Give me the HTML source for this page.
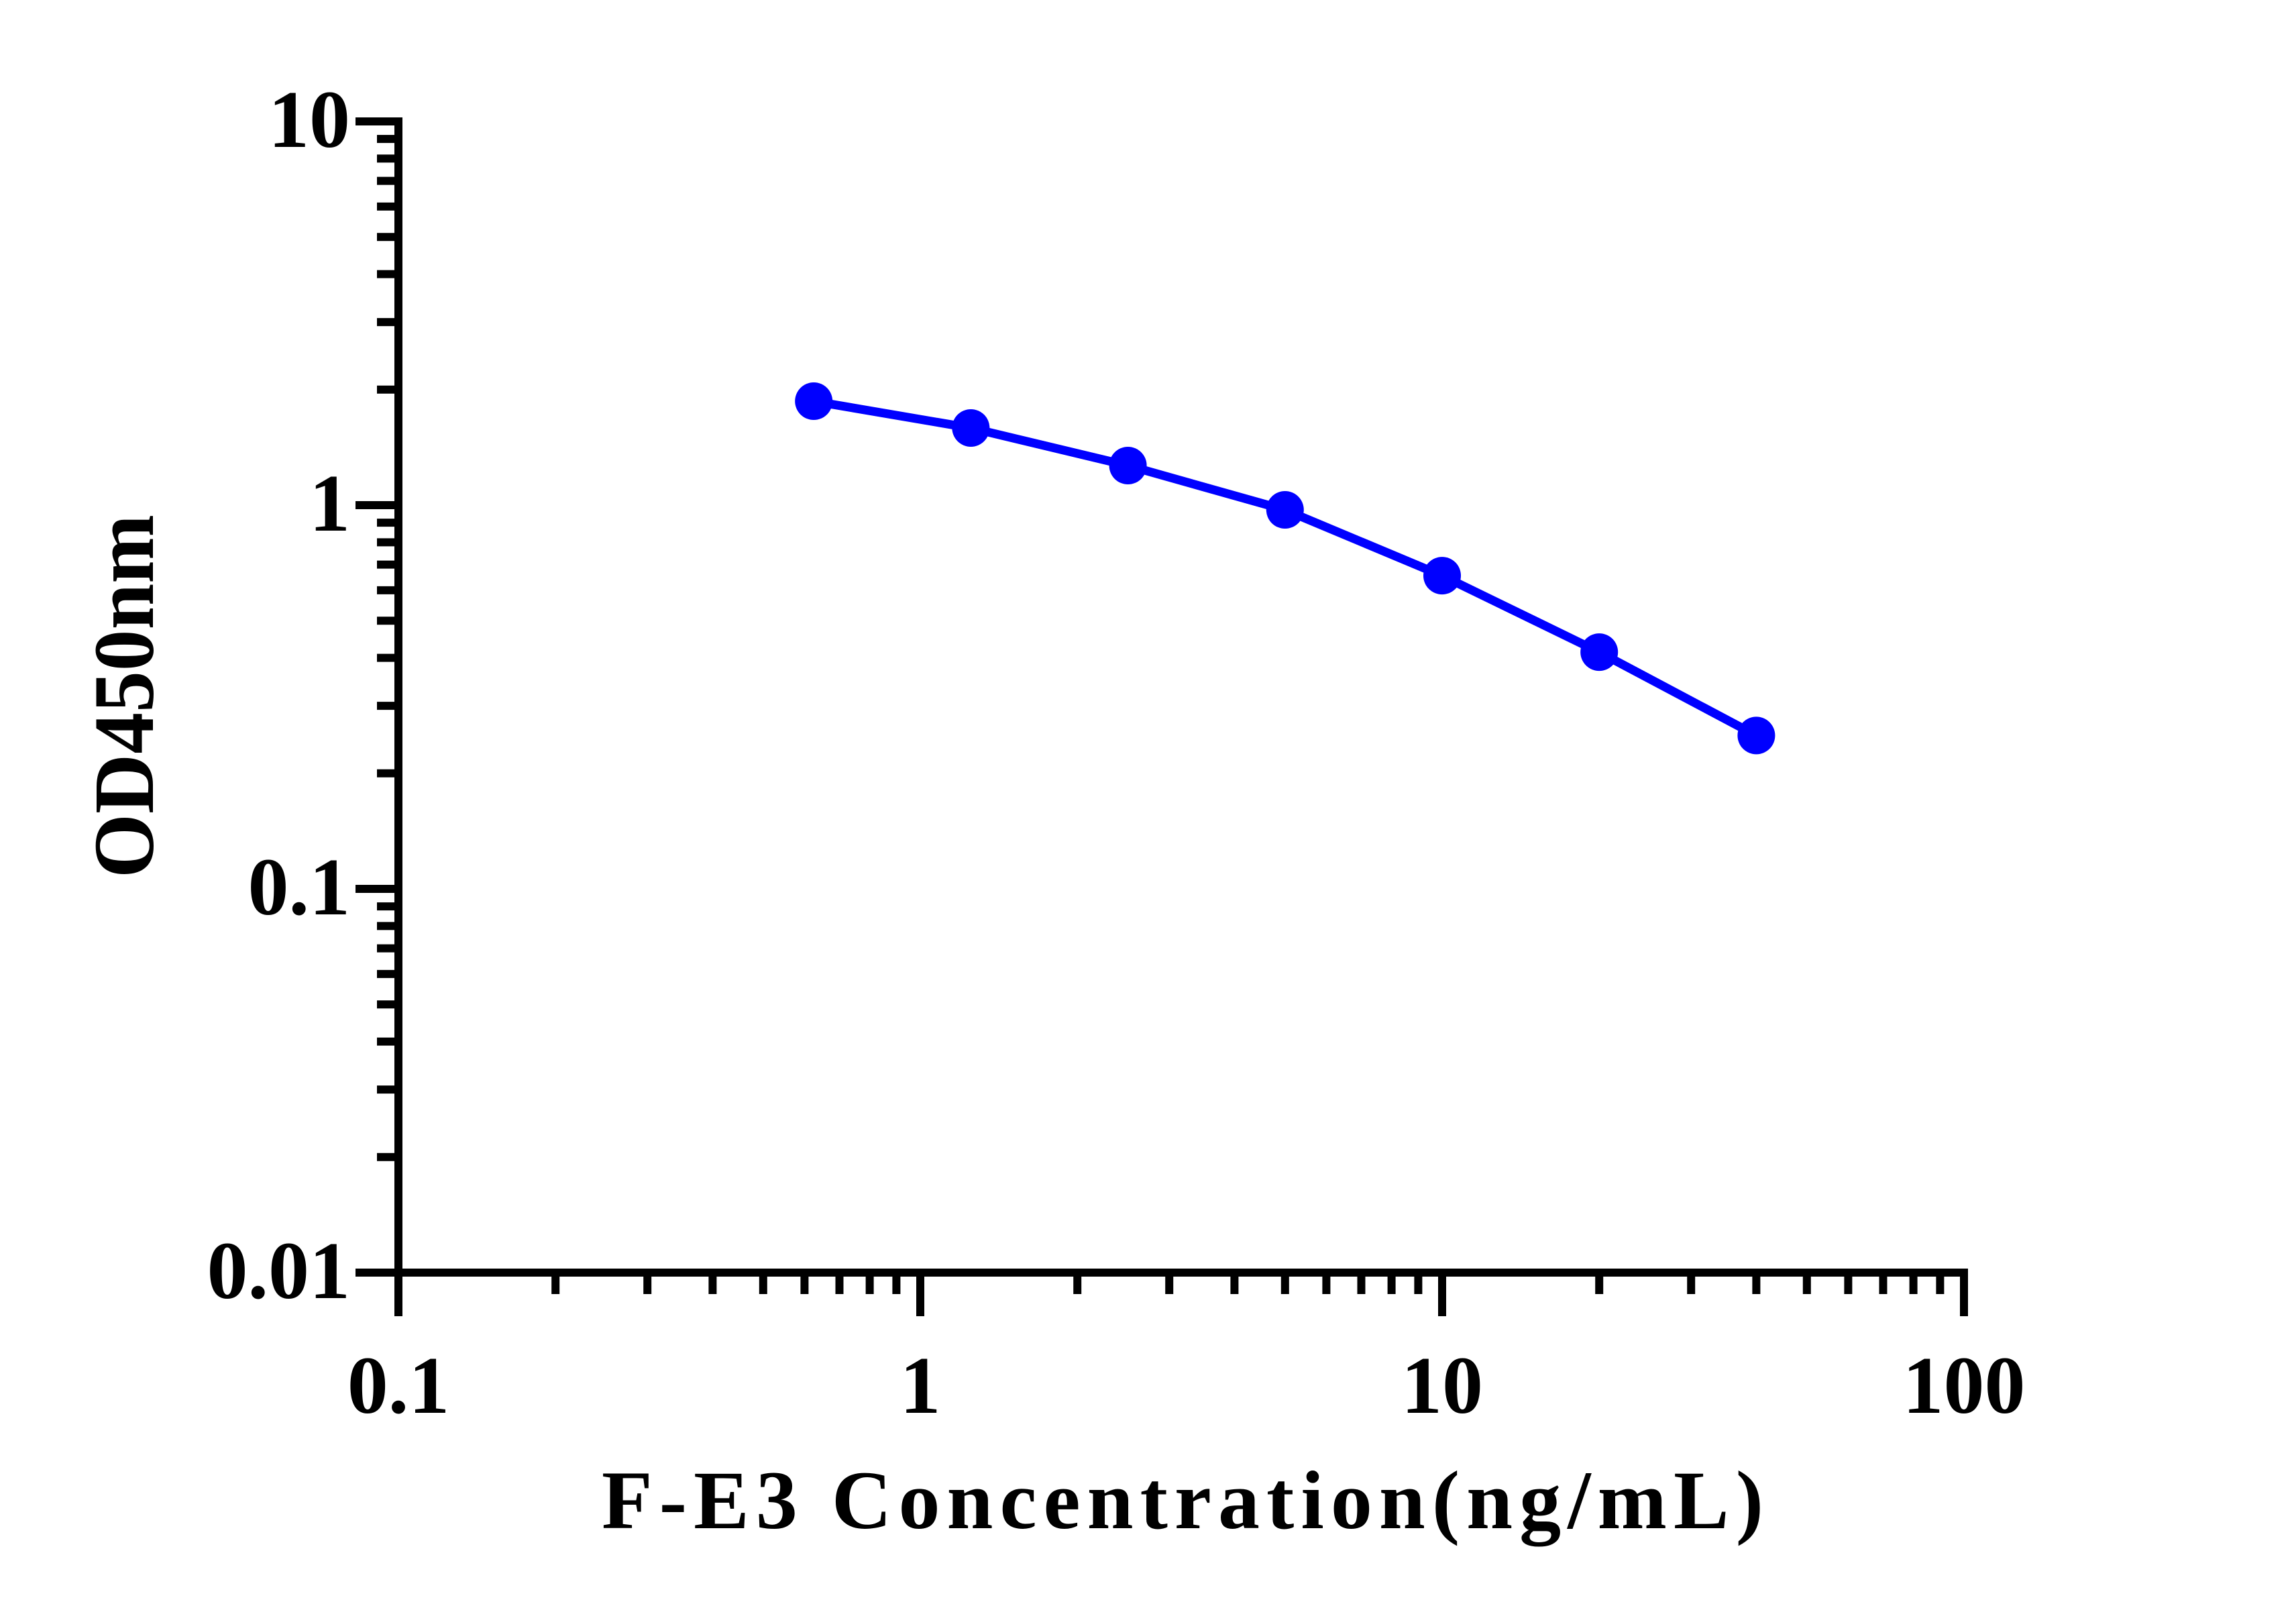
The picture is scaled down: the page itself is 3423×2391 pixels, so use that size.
<!DOCTYPE html>
<html><head><meta charset="utf-8"><style>html,body{margin:0;padding:0;background:#fff}svg{display:block}</style></head>
<body>
<svg id="chart" xmlns="http://www.w3.org/2000/svg" width="3423" height="2391" viewBox="0 0 3423 2391" font-family="'Liberation Serif', serif" font-weight="bold">
<rect width="3423" height="2391" fill="#fff"/>
<g id="axes"></g>
<g id="series"></g>
<text x="897" y="2278" font-size="124" textLength="1732" lengthAdjust="spacing">F-E3 Concentration(ng/mL)</text>
<text transform="translate(228,1038) rotate(-90)" text-anchor="middle" font-size="128" textLength="542" lengthAdjust="spacingAndGlyphs">OD450nm</text>
</svg>
<script>
const concentrations = [0.625, 1.25, 2.5, 5, 10, 20, 40];
const odValues = [1.866, 1.589, 1.268, 0.972, 0.655, 0.414, 0.251];
const xTickValues = [0.1, 1, 10, 100];
const xTickLabels = ["0.1", "1", "10", "100"];
const yTickValues = [0.01, 0.1, 1, 10];
const yTickLabels = ["0.01", "0.1", "1", "10"];

const X0 = 594, XDEC = 778, XMIN = 0.1;
const Y0 = 1897, YDEC = 572, YMIN = 0.01;
function xs(v){ return X0 + Math.log10(v / XMIN) * XDEC; }
function ys(v){ return Y0 - Math.log10(v / YMIN) * YDEC; }
const NS = "http://www.w3.org/2000/svg";
function mk(tag, attrs, parent){
  const e = document.createElementNS(NS, tag);
  for (const k in attrs) e.setAttribute(k, attrs[k]);
  parent.appendChild(e);
  return e;
}
const axes = document.getElementById('axes');
const series = document.getElementById('series');

const yAxis = mk('line', {x1: xs(XMIN), y1: ys(10) - 6, x2: xs(XMIN), y2: ys(YMIN) + 6, stroke: '#000', 'stroke-width': 12}, axes);


const xAxis = mk('line', {x1: 530, y1: ys(YMIN), x2: xs(100) + 6, y2: ys(YMIN), stroke: '#000', 'stroke-width': 12}, axes);



// y ticks
for (let d = 0; d < 3; d++) {
  const base = YMIN * Math.pow(10, d);
  for (let m = 2; m <= 9; m++) {
    const y = ys(base * m);
    const t = mk('line', {x1: 562, y1: y, x2: xs(XMIN), y2: y, stroke: '#000', 'stroke-width': 12}, axes);
    
    
  }
}
yTickValues.forEach((v, i) => {
  const y = ys(v);
  const t = mk('line', {x1: 530, y1: y, x2: xs(XMIN), y2: y, stroke: '#000', 'stroke-width': 12}, axes);
  
  
  const lb = mk('text', {x: 522, y: y + 38, 'text-anchor': 'end', 'font-size': 122}, axes);
  lb.textContent = yTickLabels[i];
  
  
});
// x ticks
for (let d = 0; d < 3; d++) {
  const base = XMIN * Math.pow(10, d);
  for (let m = 2; m <= 9; m++) {
    const x = xs(base * m);
    const t = mk('line', {x1: x, y1: ys(YMIN), x2: x, y2: 1929, stroke: '#000', 'stroke-width': 12}, axes);
    
    
  }
}
xTickValues.forEach((v, i) => {
  const x = xs(v);
  const t = mk('line', {x1: x, y1: ys(YMIN), x2: x, y2: 1962, stroke: '#000', 'stroke-width': 12}, axes);
  
  
  const lb = mk('text', {x: x, y: 2106, 'text-anchor': 'middle', 'font-size': 122}, axes);
  lb.textContent = xTickLabels[i];
  
  
});

// series
const pts = concentrations.map((c, i) => xs(c) + ',' + ys(odValues[i])).join(' ');
const line = mk('polyline', {points: pts, fill: 'none', stroke: '#0000FF', 'stroke-width': 13, 'stroke-linejoin': 'round'}, series);


concentrations.forEach((c, i) => {
  const p = mk('circle', {cx: xs(c), cy: ys(odValues[i]), r: 28, fill: '#0000FF'}, series);
  
  
});
</script>
</body></html>
